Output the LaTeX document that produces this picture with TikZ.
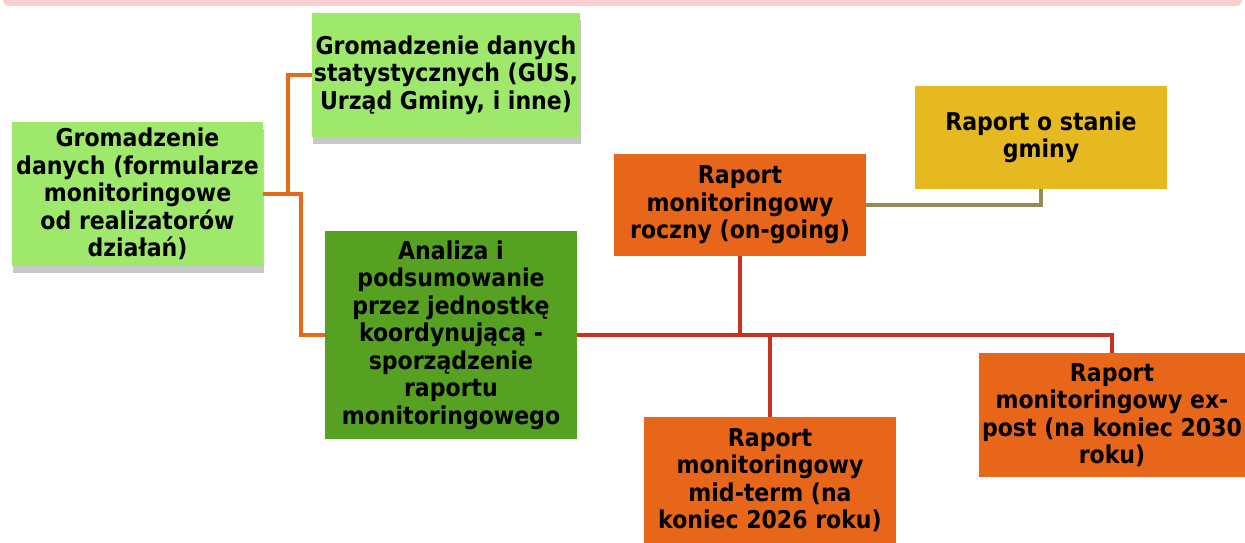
\documentclass[tikz,border=0pt]{standalone}
\usepackage{fontspec}
\setmainfont{DejaVu Sans Condensed}
\usetikzlibrary{shadows}
\definecolor{lgreen}{HTML}{9EE96C}
\definecolor{dgreen}{HTML}{56A022}
\definecolor{orangebox}{HTML}{E8661A}
\definecolor{yellowbox}{HTML}{E5B91F}
\definecolor{orangeline}{HTML}{E66A1C}
\definecolor{redline}{HTML}{C9321F}
\definecolor{oliveline}{HTML}{948A54}
\definecolor{pinkbar}{HTML}{F9CFCF}
\tikzset{
  box/.style={draw=none, inner sep=1pt, align=center, anchor=center,
    font=\fontsize{24.5}{27.5}\selectfont\bfseries, text=black},
  shbox/.style={box, drop shadow={shadow xshift=1pt, shadow yshift=-7pt, opacity=0.3, fill=black!70}},
  conn/.style={line width=3.5pt},
}
\begin{document}
\begin{tikzpicture}[x=1pt,y=-1pt]
\useasboundingbox (0,0) rectangle (1245,543);
\fill[white] (0,0) rectangle (1245,543);
\fill[pinkbar, rounded corners=6pt] (3,-12) rectangle (1242,6);

\node[shbox, fill=lgreen, minimum width=251pt, minimum height=144pt] (A) at (137.5,194)
  {Gromadzenie\\danych (formularze\\monitoringowe\\od realizatorów\\działań)};
\node[shbox, fill=lgreen, minimum width=268pt, minimum height=124pt] (B) at (446,75)
  {Gromadzenie danych\\statystycznych (GUS,\\Urząd Gminy, i inne)};
\node[box, fill=dgreen, minimum width=252pt, minimum height=208pt] (C) at (451,335)
  {Analiza i\\podsumowanie\\przez jednostkę\\koordynującą -\\sporządzenie\\raportu\\monitoringowego};
\node[box, fill=orangebox, minimum width=252pt, minimum height=102pt] (D) at (740,205)
  {Raport\\monitoringowy\\roczny (on-going)};
\node[box, fill=yellowbox, minimum width=252pt, minimum height=103pt] (E) at (1041,137.5)
  {Raport o stanie\\gminy};
\node[box, fill=orangebox, minimum width=252pt, minimum height=126pt] (F) at (770,480)
  {Raport\\monitoringowy\\mid-term (na\\koniec 2026 roku)};
\node[box, fill=orangebox, minimum width=266pt, minimum height=124pt] (G) at (1112,415)
  {Raport\\monitoringowy ex-\\post (na koniec 2030\\roku)};

\draw[conn, orangeline] (A.east) -- ++(25,0) |- (B.west);
\draw[conn, orangeline] (A.east) -- ++(38,0) |- (C.west);
\draw[conn, redline] (C.east) -| (G.north);
\draw[conn, redline] (D.south) -- (D.south |- C.east);
\draw[conn, redline] (F.north) -- (F.north |- C.east);
\draw[conn, oliveline] (D.east) -| (E.south);
\end{tikzpicture}
\end{document}
